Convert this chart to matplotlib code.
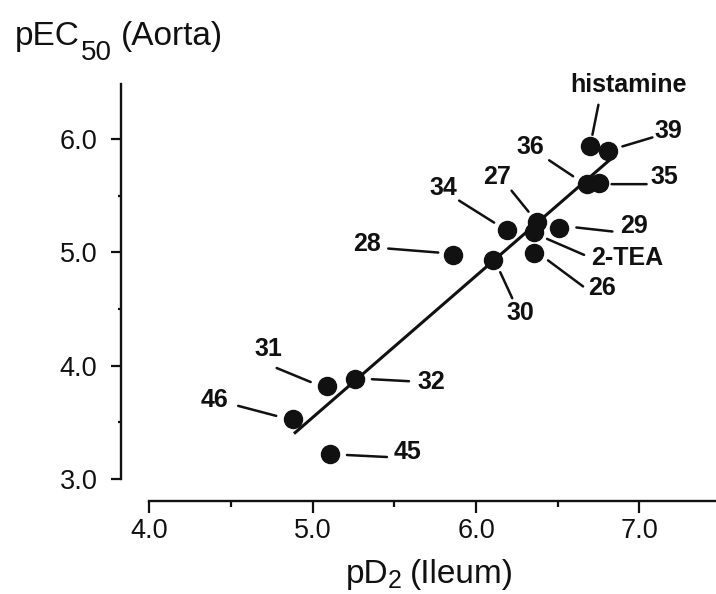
import matplotlib
matplotlib.use("Agg")
import matplotlib.pyplot as plt
from matplotlib.text import OffsetFrom, Annotation
from matplotlib.ticker import MultipleLocator, FixedLocator

# ---- data ----
compounds = ["histamine", "39", "36", "35", "27", "2-TEA", "34", "29",
             "26", "28", "30", "31", "32", "46", "45"]
pD2_ileum = [6.70, 6.81, 6.68, 6.75, 6.37, 6.355, 6.19, 6.51,
             6.355, 5.86, 6.105, 5.085, 5.258, 4.88, 5.105]
pEC50_aorta = [5.94, 5.89, 5.60, 5.61, 5.27, 5.18, 5.20, 5.21,
               4.99, 4.98, 4.93, 3.82, 3.88, 3.53, 3.22]
fit_x = [4.885, 6.83]
fit_y = [3.40, 5.83]
xticks = [4.0, 5.0, 6.0, 7.0]
yticks = [3.0, 4.0, 5.0, 6.0]

# ---- label layout (pixel offsets relative to each dot) ----
label_offsets = {
    "histamine": (38, 61), "39": (60, 20), "36": (-57, 37), "35": (66, 6),
    "27": (-39, 45), "2-TEA": (93, -26), "34": (-64, 42), "29": (75, 2),
    "26": (68, -35), "28": (-86, 11), "30": (27, -53), "31": (-58, 37),
    "32": (76, -3), "46": (-79, 19), "45": (78, 2),
}
leader_offsets = {
    "histamine": ((2, 11), (8, 41)), "39": ((14, 5), (44, 14)),
    "35": ((13, -1), (48, -1)), "36": ((-14, 8), (-38, 24)),
    "27": ((-8, 10), (-25, 31)), "34": ((-13, 7), (-48, 29)),
    "29": ((17, 1), (53, -3)), "2-TEA": ((13, -7), (50, -23)),
    "26": ((14, -7), (49, -33)), "30": ((7, -12), (19, -38)),
    "28": ((-15, 2), (-65, 6)), "31": ((-16, 4), (-50, 18)),
    "46": ((-17, 3), (-55, 13)), "45": ((17, -1), (57, -3)),
    "32": ((17, 0), (54, -2)),
}

ink = "#111111"
plt.rcParams["font.family"] = ["Liberation Sans", "DejaVu Sans"]

W, H = 716, 594
fig = plt.figure(figsize=(W / 100, H / 100), dpi=100)
ax = fig.add_axes([121 / W, (H - 500.7) / H, (W - 121) / W, (500.7 - 84) / H])
ax.set_xlim(3.8255, 7.469)
ax.set_ylim(2.808, 6.485)

for s in ("top", "right"):
    ax.spines[s].set_visible(False)
for s in ("left", "bottom"):
    ax.spines[s].set_linewidth(1.7)
    ax.spines[s].set_color(ink)
ax.spines["left"].set_bounds(3.0, 6.485)
ax.spines["bottom"].set_bounds(4.0, 7.469)

ax.xaxis.set_major_locator(FixedLocator(xticks))
ax.yaxis.set_major_locator(FixedLocator(yticks))
ax.xaxis.set_minor_locator(MultipleLocator(0.5))
ax.yaxis.set_minor_locator(MultipleLocator(0.5))
ax.set_xticklabels([f"{v:.1f}" for v in xticks])
ax.set_yticklabels([f"{v:.1f}" for v in yticks])
ax.tick_params(axis="x", which="major", length=8.5, width=1.6, color=ink,
               labelsize=19.5, pad=4, labelcolor=ink)
ax.tick_params(axis="x", which="minor", length=4, width=1.6, color=ink)
ax.tick_params(axis="y", which="major", length=7, width=1.6, color=ink,
               labelsize=19.5, pad=10, labelcolor=ink)
ax.tick_params(axis="y", which="minor", length=2.5, width=1.6, color=ink)

ax.plot(fit_x, fit_y, color=ink, lw=2.2, solid_capstyle="butt", zorder=2)
ax.plot(pD2_ileum, pEC50_aorta, "o", ms=13, color=ink, mec=ink, zorder=3)

for name, x, y in zip(compounds, pD2_ileum, pEC50_aorta):
    ref = OffsetFrom(ax.transData, (x, y), unit="pixels")
    (sx, sy), (ex, ey) = leader_offsets[name]
    ax.annotate("", xy=(ex, ey), xycoords=ref, xytext=(sx, sy), textcoords=ref,
                arrowprops=dict(arrowstyle="-", lw=1.8, color=ink,
                                shrinkA=0, shrinkB=0), annotation_clip=False)
    dx, dy = label_offsets[name]
    ax.annotate(name, xy=(x, y), xytext=(dx, dy), textcoords="offset pixels",
                ha="center", va="center", fontsize=18, fontweight="bold",
                color=ink, annotation_clip=False)


# axis titles: main text + lowered subscript + rest, chained side by side
def title_with_sub(px, base_py, main, sub, rest, size, sub_size, sub_drop,
                   sub_dx, gap):
    pt2px = 100 / 72
    d_main = 0.212 * size * pt2px   # descent below baseline in the text bbox
    d_sub = 0.212 * sub_size * pt2px
    t1 = fig.text(px / W, 1 - base_py / H, main, fontsize=size, ha="left",
                  va="baseline", color=ink)
    t2 = fig.add_artist(Annotation(
        sub, xy=(1, 0), xycoords=t1, xytext=(sub_dx, d_main - sub_drop),
        textcoords="offset pixels", fontsize=sub_size, ha="left",
        va="baseline", color=ink))
    fig.add_artist(Annotation(
        rest, xy=(1, 0), xycoords=t2, xytext=(gap, d_sub + sub_drop),
        textcoords="offset pixels", fontsize=size, ha="left",
        va="baseline", color=ink))


title_with_sub(15, 45, "pEC", "50", "(Aorta)", 24, 20, 15, 1, 9)
title_with_sub(346, 583, "pD", "2", "(Ileum)", 24, 18, 5, -1, 8)

fig.savefig("out.png", dpi=100)
